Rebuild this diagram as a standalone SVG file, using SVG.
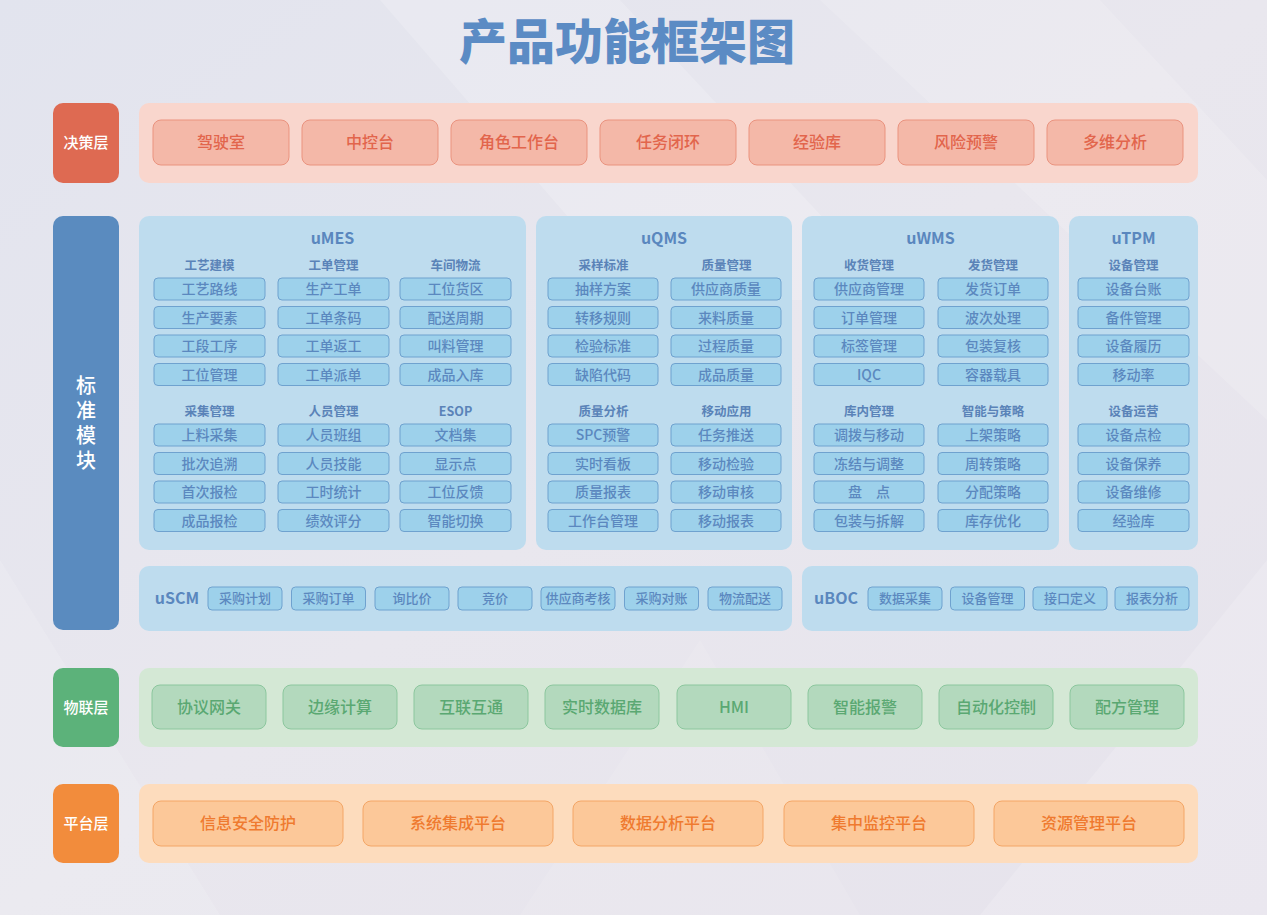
<svg xmlns="http://www.w3.org/2000/svg" width="1267" height="915" viewBox="0 0 1267 915">
<defs>
<linearGradient id="bg" x1="0" y1="0" x2="1" y2="1">
<stop offset="0" stop-color="#e2e4ee"/>
<stop offset="0.5" stop-color="#e9e7ee"/>
<stop offset="1" stop-color="#e6e3ec"/>
</linearGradient>
<style>
text{font-family:"Noto Sans CJK SC","Noto Sans",sans-serif;text-anchor:middle}
.title{font-size:48px;font-weight:900;fill:#5b8bc4}
.lab{font-size:15px;font-weight:500;fill:#ffffff}
.labv{font-size:20px;font-weight:500;fill:#ffffff}
.dp{fill:#f9d6cd}
.db{fill:#f4b8a8;stroke:#ea937f;stroke-width:1}
.dt{font-size:16px;font-weight:500;fill:#e2654c}
.sp{fill:#bedcee}
.sb{fill:#9dd1eb;stroke:#6fa2cf;stroke-width:1}
.st{font-size:14px;font-weight:500;fill:#5b88bf}
.sh{font-size:12.5px;font-weight:700;fill:#5a83b8}
.sm{font-size:16px;font-weight:700;fill:#5a87be}
.ss{font-size:13px;font-weight:500;fill:#5b88bf}
.ip{fill:#d4e8d5}
.ib{fill:#b3d9bd;stroke:#8cc79e;stroke-width:1}
.it{font-size:16px;font-weight:500;fill:#5aa872}
.pp{fill:#fddcbd}
.pb{fill:#fcc899;stroke:#f4a666;stroke-width:1}
.pt{font-size:16px;font-weight:500;fill:#ef7a2f}
</style>
</defs>
<rect x="0" y="0" width="1267" height="915" fill="url(#bg)"/>
<polygon points="380,0 620,0 900,300 640,300" fill="#ffffff" opacity="0.18"/>
<polygon points="820,0 1100,0 1267,180 1267,420" fill="#ffffff" opacity="0.15"/>
<polygon points="0,560 220,915 0,915" fill="#ffffff" opacity="0.12"/>
<polygon points="1267,560 1267,915 980,915" fill="#ffffff" opacity="0.16"/>
<polygon points="520,915 700,640 860,915" fill="#ffffff" opacity="0.10"/>

<g id="title"><text class="title" x="627" y="59">产品功能框架图</text></g>

<g id="connectors"></g>

<!-- Decision layer -->
<g id="layer-decision">
<rect x="53" y="103" width="66" height="80" rx="10" fill="#de6a52"/>
<text class="lab" x="86" y="148">决策层</text>
<rect class="dp" x="139" y="103" width="1059" height="80" rx="10"/>
</g>
<g id="d1"><rect class="db" x="153" y="120" width="136" height="45" rx="8"/><text class="dt" x="221" y="148">驾驶室</text></g>
<g id="d2"><rect class="db" x="302" y="120" width="136" height="45" rx="8"/><text class="dt" x="370" y="148">中控台</text></g>
<g id="d3"><rect class="db" x="451" y="120" width="136" height="45" rx="8"/><text class="dt" x="519" y="148">角色工作台</text></g>
<g id="d4"><rect class="db" x="600" y="120" width="136" height="45" rx="8"/><text class="dt" x="668" y="148">任务闭环</text></g>
<g id="d5"><rect class="db" x="749" y="120" width="136" height="45" rx="8"/><text class="dt" x="817" y="148">经验库</text></g>
<g id="d6"><rect class="db" x="898" y="120" width="136" height="45" rx="8"/><text class="dt" x="966" y="148">风险预警</text></g>
<g id="d7"><rect class="db" x="1047" y="120" width="136" height="45" rx="8"/><text class="dt" x="1115" y="148">多维分析</text></g>

<!-- Standard modules -->
<g id="layer-standard">
<rect x="53" y="216" width="66" height="414" rx="10" fill="#5a8bbf"/>
<text class="labv" x="86" y="425" writing-mode="vertical-rl" letter-spacing="5">标准模块</text>
</g>

<g id="uMES">
<rect class="sp" x="139" y="216" width="387" height="334" rx="10"/>
<text class="sm" x="332.5" y="244">uMES</text>
<text class="sh" x="209.5" y="270">工艺建模</text>
<text class="sh" x="333.5" y="270">工单管理</text>
<text class="sh" x="455.5" y="270">车间物流</text>
<text class="sh" x="209.5" y="416">采集管理</text>
<text class="sh" x="333.5" y="416">人员管理</text>
<text class="sh" x="455.5" y="416">ESOP</text>
<g class="boxes">
<rect class="sb" x="154" y="278" width="111" height="22" rx="4"/><text class="st" x="209.5" y="294">工艺路线</text>
<rect class="sb" x="154" y="306.5" width="111" height="22" rx="4"/><text class="st" x="209.5" y="322.5">生产要素</text>
<rect class="sb" x="154" y="335" width="111" height="22" rx="4"/><text class="st" x="209.5" y="351">工段工序</text>
<rect class="sb" x="154" y="363.5" width="111" height="22" rx="4"/><text class="st" x="209.5" y="379.5">工位管理</text>
<rect class="sb" x="278" y="278" width="111" height="22" rx="4"/><text class="st" x="333.5" y="294">生产工单</text>
<rect class="sb" x="278" y="306.5" width="111" height="22" rx="4"/><text class="st" x="333.5" y="322.5">工单条码</text>
<rect class="sb" x="278" y="335" width="111" height="22" rx="4"/><text class="st" x="333.5" y="351">工单返工</text>
<rect class="sb" x="278" y="363.5" width="111" height="22" rx="4"/><text class="st" x="333.5" y="379.5">工单派单</text>
<rect class="sb" x="400" y="278" width="111" height="22" rx="4"/><text class="st" x="455.5" y="294">工位货区</text>
<rect class="sb" x="400" y="306.5" width="111" height="22" rx="4"/><text class="st" x="455.5" y="322.5">配送周期</text>
<rect class="sb" x="400" y="335" width="111" height="22" rx="4"/><text class="st" x="455.5" y="351">叫料管理</text>
<rect class="sb" x="400" y="363.5" width="111" height="22" rx="4"/><text class="st" x="455.5" y="379.5">成品入库</text>
<rect class="sb" x="154" y="424" width="111" height="22" rx="4"/><text class="st" x="209.5" y="440">上料采集</text>
<rect class="sb" x="154" y="452.5" width="111" height="22" rx="4"/><text class="st" x="209.5" y="468.5">批次追溯</text>
<rect class="sb" x="154" y="481" width="111" height="22" rx="4"/><text class="st" x="209.5" y="497">首次报检</text>
<rect class="sb" x="154" y="509.5" width="111" height="22" rx="4"/><text class="st" x="209.5" y="525.5">成品报检</text>
<rect class="sb" x="278" y="424" width="111" height="22" rx="4"/><text class="st" x="333.5" y="440">人员班组</text>
<rect class="sb" x="278" y="452.5" width="111" height="22" rx="4"/><text class="st" x="333.5" y="468.5">人员技能</text>
<rect class="sb" x="278" y="481" width="111" height="22" rx="4"/><text class="st" x="333.5" y="497">工时统计</text>
<rect class="sb" x="278" y="509.5" width="111" height="22" rx="4"/><text class="st" x="333.5" y="525.5">绩效评分</text>
<rect class="sb" x="400" y="424" width="111" height="22" rx="4"/><text class="st" x="455.5" y="440">文档集</text>
<rect class="sb" x="400" y="452.5" width="111" height="22" rx="4"/><text class="st" x="455.5" y="468.5">显示点</text>
<rect class="sb" x="400" y="481" width="111" height="22" rx="4"/><text class="st" x="455.5" y="497">工位反馈</text>
<rect class="sb" x="400" y="509.5" width="111" height="22" rx="4"/><text class="st" x="455.5" y="525.5">智能切换</text>
</g>
</g>

<g id="uQMS">
<rect class="sp" x="536" y="216" width="256" height="334" rx="10"/>
<text class="sm" x="664" y="244">uQMS</text>
<text class="sh" x="603.5" y="270">采样标准</text>
<text class="sh" x="726.5" y="270">质量管理</text>
<text class="sh" x="603.5" y="416">质量分析</text>
<text class="sh" x="726.5" y="416">移动应用</text>
<rect class="sb" x="548" y="278" width="110" height="22" rx="4"/><text class="st" x="603" y="294">抽样方案</text>
<rect class="sb" x="548" y="306.5" width="110" height="22" rx="4"/><text class="st" x="603" y="322.5">转移规则</text>
<rect class="sb" x="548" y="335" width="110" height="22" rx="4"/><text class="st" x="603" y="351">检验标准</text>
<rect class="sb" x="548" y="363.5" width="110" height="22" rx="4"/><text class="st" x="603" y="379.5">缺陷代码</text>
<rect class="sb" x="671" y="278" width="110" height="22" rx="4"/><text class="st" x="726" y="294">供应商质量</text>
<rect class="sb" x="671" y="306.5" width="110" height="22" rx="4"/><text class="st" x="726" y="322.5">来料质量</text>
<rect class="sb" x="671" y="335" width="110" height="22" rx="4"/><text class="st" x="726" y="351">过程质量</text>
<rect class="sb" x="671" y="363.5" width="110" height="22" rx="4"/><text class="st" x="726" y="379.5">成品质量</text>
<rect class="sb" x="548" y="424" width="110" height="22" rx="4"/><text class="st" x="603" y="440">SPC预警</text>
<rect class="sb" x="548" y="452.5" width="110" height="22" rx="4"/><text class="st" x="603" y="468.5">实时看板</text>
<rect class="sb" x="548" y="481" width="110" height="22" rx="4"/><text class="st" x="603" y="497">质量报表</text>
<rect class="sb" x="548" y="509.5" width="110" height="22" rx="4"/><text class="st" x="603" y="525.5">工作台管理</text>
<rect class="sb" x="671" y="424" width="110" height="22" rx="4"/><text class="st" x="726" y="440">任务推送</text>
<rect class="sb" x="671" y="452.5" width="110" height="22" rx="4"/><text class="st" x="726" y="468.5">移动检验</text>
<rect class="sb" x="671" y="481" width="110" height="22" rx="4"/><text class="st" x="726" y="497">移动审核</text>
<rect class="sb" x="671" y="509.5" width="110" height="22" rx="4"/><text class="st" x="726" y="525.5">移动报表</text>
</g>

<g id="uWMS">
<rect class="sp" x="802" y="216" width="257" height="334" rx="10"/>
<text class="sm" x="930.5" y="244">uWMS</text>
<text class="sh" x="869" y="270">收货管理</text>
<text class="sh" x="993" y="270">发货管理</text>
<text class="sh" x="869" y="416">库内管理</text>
<text class="sh" x="993" y="416">智能与策略</text>
<rect class="sb" x="814" y="278" width="110" height="22" rx="4"/><text class="st" x="869" y="294">供应商管理</text>
<rect class="sb" x="814" y="306.5" width="110" height="22" rx="4"/><text class="st" x="869" y="322.5">订单管理</text>
<rect class="sb" x="814" y="335" width="110" height="22" rx="4"/><text class="st" x="869" y="351">标签管理</text>
<rect class="sb" x="814" y="363.5" width="110" height="22" rx="4"/><text class="st" x="869" y="379.5">IQC</text>
<rect class="sb" x="938" y="278" width="110" height="22" rx="4"/><text class="st" x="993" y="294">发货订单</text>
<rect class="sb" x="938" y="306.5" width="110" height="22" rx="4"/><text class="st" x="993" y="322.5">波次处理</text>
<rect class="sb" x="938" y="335" width="110" height="22" rx="4"/><text class="st" x="993" y="351">包装复核</text>
<rect class="sb" x="938" y="363.5" width="110" height="22" rx="4"/><text class="st" x="993" y="379.5">容器载具</text>
<rect class="sb" x="814" y="424" width="110" height="22" rx="4"/><text class="st" x="869" y="440">调拨与移动</text>
<rect class="sb" x="814" y="452.5" width="110" height="22" rx="4"/><text class="st" x="869" y="468.5">冻结与调整</text>
<rect class="sb" x="814" y="481" width="110" height="22" rx="4"/><text class="st" x="869" y="497">盘　点</text>
<rect class="sb" x="814" y="509.5" width="110" height="22" rx="4"/><text class="st" x="869" y="525.5">包装与拆解</text>
<rect class="sb" x="938" y="424" width="110" height="22" rx="4"/><text class="st" x="993" y="440">上架策略</text>
<rect class="sb" x="938" y="452.5" width="110" height="22" rx="4"/><text class="st" x="993" y="468.5">周转策略</text>
<rect class="sb" x="938" y="481" width="110" height="22" rx="4"/><text class="st" x="993" y="497">分配策略</text>
<rect class="sb" x="938" y="509.5" width="110" height="22" rx="4"/><text class="st" x="993" y="525.5">库存优化</text>
</g>

<g id="uTPM">
<rect class="sp" x="1069" y="216" width="129" height="334" rx="10"/>
<text class="sm" x="1133.5" y="244">uTPM</text>
<text class="sh" x="1133.5" y="270">设备管理</text>
<text class="sh" x="1133.5" y="416">设备运营</text>
<rect class="sb" x="1078" y="278" width="111" height="22" rx="4"/><text class="st" x="1133.5" y="294">设备台账</text>
<rect class="sb" x="1078" y="306.5" width="111" height="22" rx="4"/><text class="st" x="1133.5" y="322.5">备件管理</text>
<rect class="sb" x="1078" y="335" width="111" height="22" rx="4"/><text class="st" x="1133.5" y="351">设备履历</text>
<rect class="sb" x="1078" y="363.5" width="111" height="22" rx="4"/><text class="st" x="1133.5" y="379.5">移动率</text>
<rect class="sb" x="1078" y="424" width="111" height="22" rx="4"/><text class="st" x="1133.5" y="440">设备点检</text>
<rect class="sb" x="1078" y="452.5" width="111" height="22" rx="4"/><text class="st" x="1133.5" y="468.5">设备保养</text>
<rect class="sb" x="1078" y="481" width="111" height="22" rx="4"/><text class="st" x="1133.5" y="497">设备维修</text>
<rect class="sb" x="1078" y="509.5" width="111" height="22" rx="4"/><text class="st" x="1133.5" y="525.5">经验库</text>
</g>

<g id="uSCM">
<rect class="sp" x="139" y="566" width="653" height="65" rx="10"/>
<text class="sm" x="177" y="604">uSCM</text>
<rect class="sb" x="208" y="587" width="74" height="23" rx="4"/><text class="ss" x="245" y="603">采购计划</text>
<rect class="sb" x="291.5" y="587" width="74" height="23" rx="4"/><text class="ss" x="328.5" y="603">采购订单</text>
<rect class="sb" x="375" y="587" width="74" height="23" rx="4"/><text class="ss" x="412" y="603">询比价</text>
<rect class="sb" x="458" y="587" width="74" height="23" rx="4"/><text class="ss" x="495" y="603">竞价</text>
<rect class="sb" x="541" y="587" width="74" height="23" rx="4"/><text class="ss" x="578" y="603">供应商考核</text>
<rect class="sb" x="624.5" y="587" width="74" height="23" rx="4"/><text class="ss" x="661.5" y="603">采购对账</text>
<rect class="sb" x="708" y="587" width="74" height="23" rx="4"/><text class="ss" x="745" y="603">物流配送</text>
</g>

<g id="uBOC">
<rect class="sp" x="802" y="566" width="396" height="65" rx="10"/>
<text class="sm" x="836" y="604">uBOC</text>
<rect class="sb" x="868" y="587" width="74" height="23" rx="4"/><text class="ss" x="905" y="603">数据采集</text>
<rect class="sb" x="950.5" y="587" width="74" height="23" rx="4"/><text class="ss" x="987.5" y="603">设备管理</text>
<rect class="sb" x="1033" y="587" width="74" height="23" rx="4"/><text class="ss" x="1070" y="603">接口定义</text>
<rect class="sb" x="1115" y="587" width="74" height="23" rx="4"/><text class="ss" x="1152" y="603">报表分析</text>
</g>

<!-- IoT layer -->
<g id="layer-iot">
<rect x="53" y="668" width="66" height="79" rx="10" fill="#5cb27a"/>
<text class="lab" x="86" y="713">物联层</text>
<rect class="ip" x="139" y="668" width="1059" height="79" rx="10"/>
</g>
<g id="i1"><rect class="ib" x="152" y="685" width="114" height="44" rx="8"/><text class="it" x="209" y="713">协议网关</text></g>
<g id="i2"><rect class="ib" x="283" y="685" width="114" height="44" rx="8"/><text class="it" x="340" y="713">边缘计算</text></g>
<g id="i3"><rect class="ib" x="414" y="685" width="114" height="44" rx="8"/><text class="it" x="471" y="713">互联互通</text></g>
<g id="i4"><rect class="ib" x="545" y="685" width="114" height="44" rx="8"/><text class="it" x="602" y="713">实时数据库</text></g>
<g id="i5"><rect class="ib" x="677" y="685" width="114" height="44" rx="8"/><text class="it" x="734" y="713">HMI</text></g>
<g id="i6"><rect class="ib" x="808" y="685" width="114" height="44" rx="8"/><text class="it" x="865" y="713">智能报警</text></g>
<g id="i7"><rect class="ib" x="939" y="685" width="114" height="44" rx="8"/><text class="it" x="996" y="713">自动化控制</text></g>
<g id="i8"><rect class="ib" x="1070" y="685" width="114" height="44" rx="8"/><text class="it" x="1127" y="713">配方管理</text></g>

<!-- Platform layer -->
<g id="layer-platform">
<rect x="53" y="784" width="66" height="79" rx="10" fill="#f28c3c"/>
<text class="lab" x="86" y="829">平台层</text>
<rect class="pp" x="139" y="784" width="1059" height="79" rx="10"/>
</g>
<g id="p1"><rect class="pb" x="153" y="801" width="190" height="45" rx="8"/><text class="pt" x="248" y="829">信息安全防护</text></g>
<g id="p2"><rect class="pb" x="363" y="801" width="190" height="45" rx="8"/><text class="pt" x="458" y="829">系统集成平台</text></g>
<g id="p3"><rect class="pb" x="573" y="801" width="190" height="45" rx="8"/><text class="pt" x="668" y="829">数据分析平台</text></g>
<g id="p4"><rect class="pb" x="784" y="801" width="190" height="45" rx="8"/><text class="pt" x="879" y="829">集中监控平台</text></g>
<g id="p5"><rect class="pb" x="994" y="801" width="190" height="45" rx="8"/><text class="pt" x="1089" y="829">资源管理平台</text></g>
</svg>
